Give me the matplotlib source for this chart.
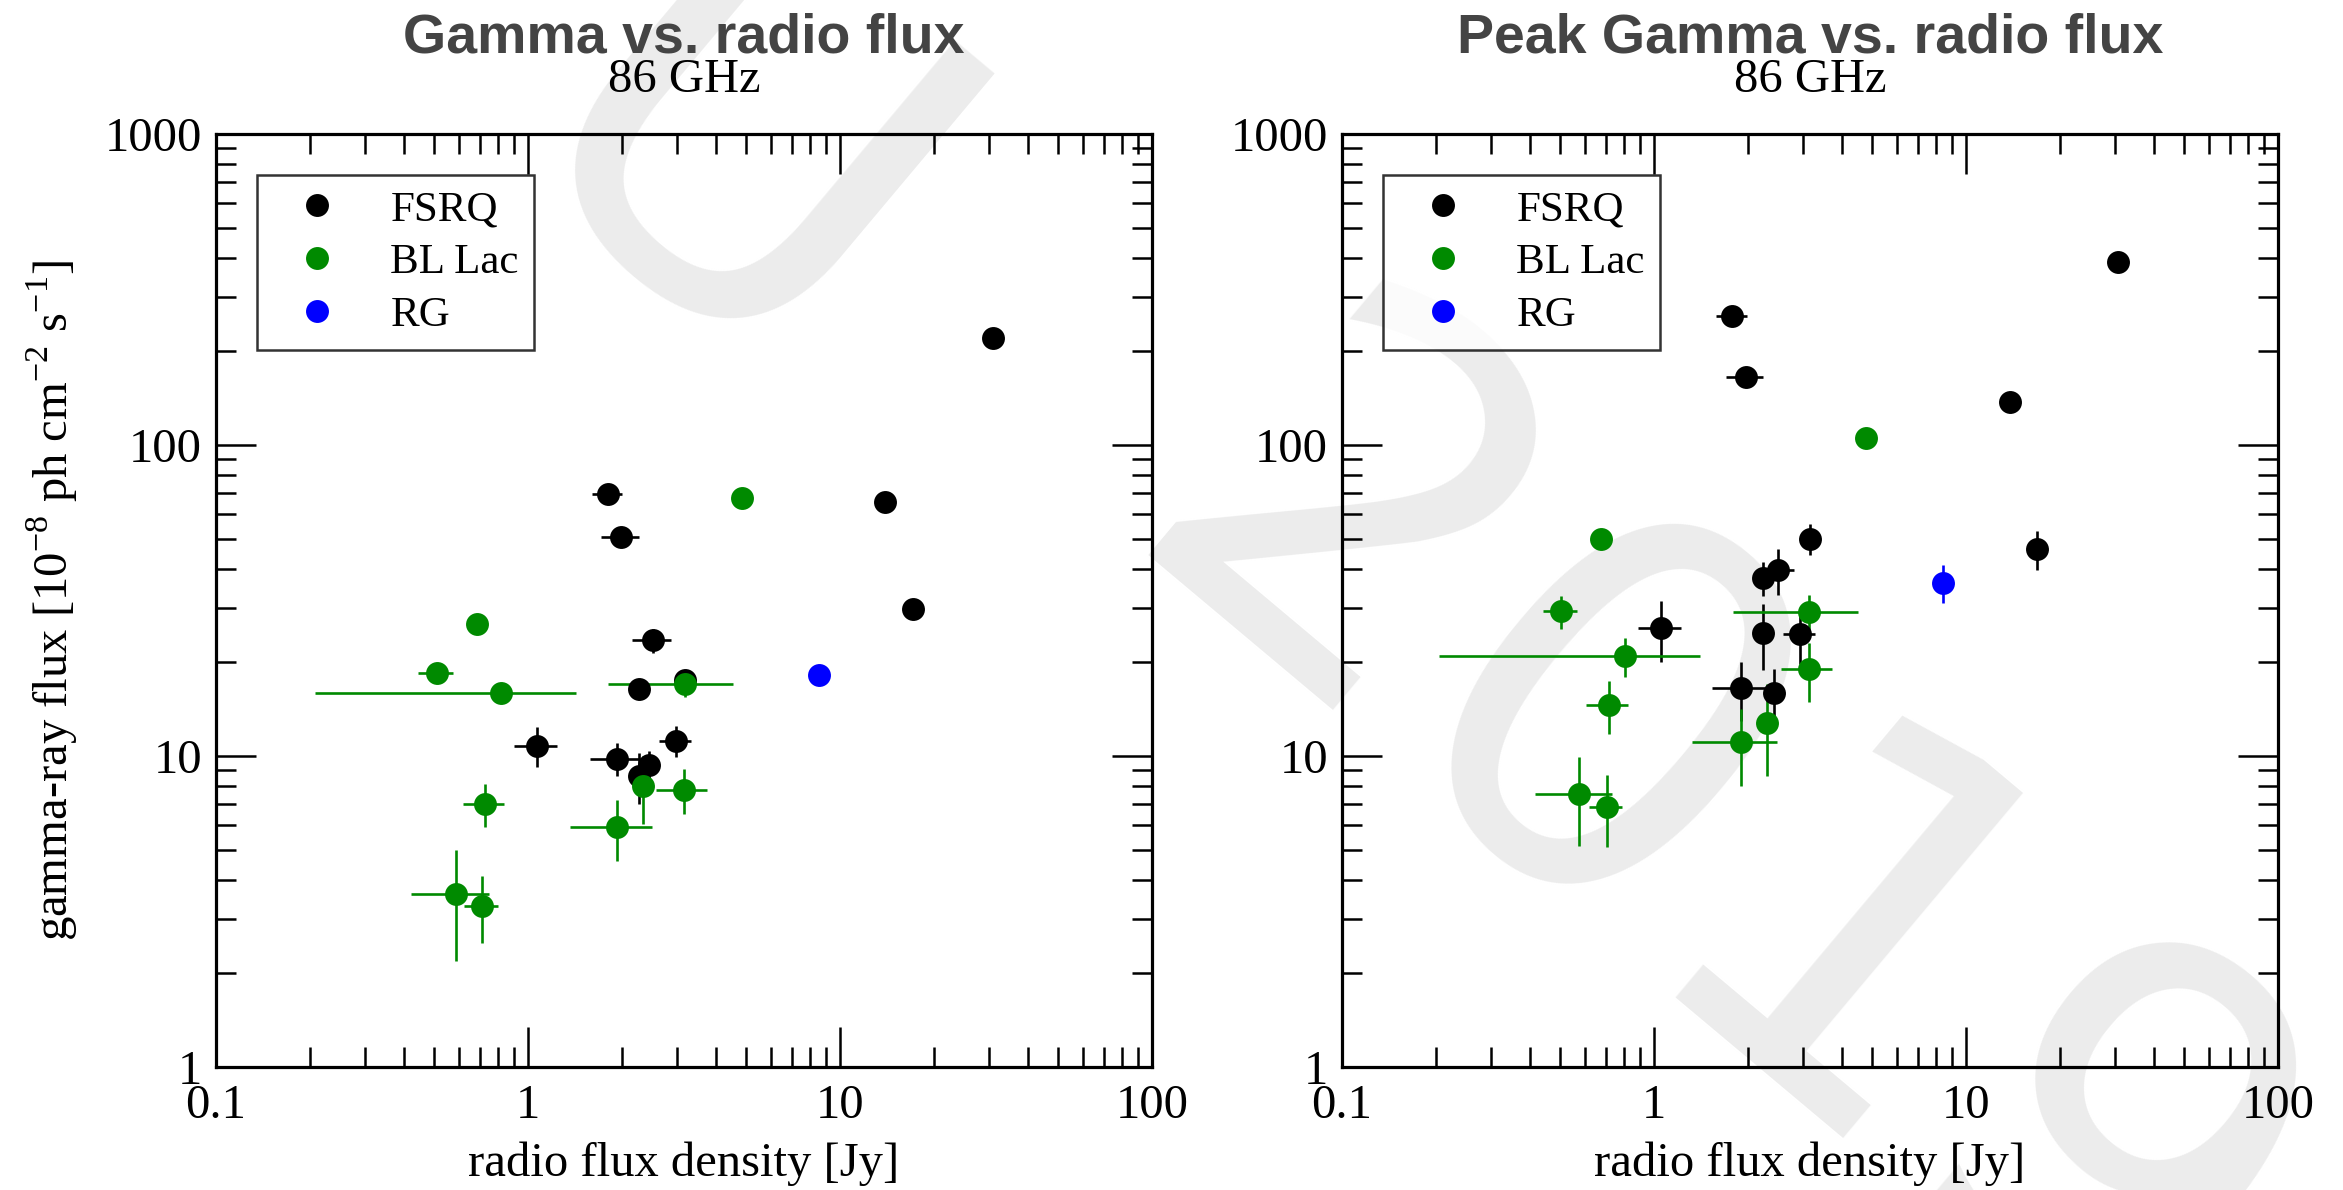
import matplotlib
matplotlib.use('Agg')
import matplotlib.pyplot as plt
from matplotlib.lines import Line2D
from matplotlib.ticker import LogLocator, FixedLocator, FixedFormatter, NullFormatter

plt.rcParams['font.family'] = ['Liberation Serif', 'DejaVu Serif']
plt.rcParams['mathtext.fontset'] = 'custom'
plt.rcParams['mathtext.rm'] = 'Liberation Serif'

DPI = 100
FIG_W, FIG_H = 2343, 1190

CLASS_COLORS = {'FSRQ': '#000000', 'BL Lac': '#008a00', 'RG': '#0000ff'}

# --- mean gamma-ray flux vs 86 GHz flux density ---
meanFsrqRadio = [1.80, 1.99, 13.9, 31.0, 17.1, 2.52, 2.27, 3.19, 1.07, 1.93, 2.45, 2.27, 2.97]
meanFsrqRadioErr = [0.20, 0.28, 0, 0, 0, 0.36, 0, 0, 0.17, 0.35, 0.15, 0, 0.35]
meanFsrqGamma = [69.4, 50.7, 65.4, 221, 29.8, 23.6, 16.4, 17.5, 10.8, 9.81, 9.38, 8.62, 11.2]
meanFsrqGammaErr = [0, 0, 1.5, 3, 0.8, 2.1, 0.5, 0.5, 1.6, 1.2, 1.0, 1.6, 1.3]

meanBllacRadio = [4.85, 0.685, 0.51, 0.818, 3.18, 2.33, 3.17, 0.727, 1.93, 0.587, 0.713]
meanBllacRadioErr = [0.25, 0, 0.065, 0.61, 1.37, 0, 0.59, 0.11, 0.57, 0.165, 0.088]
meanBllacGamma = [67.7, 26.6, 18.5, 15.9, 17.0, 8.03, 7.80, 7.02, 5.91, 3.60, 3.30]
meanBllacGammaErr = [0, 0, 0, 0, 1.5, 2.0, 1.3, 1.1, 1.3, 1.4, 0.8]

meanRgRadio = [8.55]
meanRgRadioErr = [0]
meanRgGamma = [18.2]
meanRgGammaErr = [0]

# --- peak gamma-ray flux vs 86 GHz flux density ---
peakFsrqRadio = [1.78, 1.97, 13.8, 30.7, 16.9, 3.16, 2.49, 2.24, 1.054, 2.24, 2.93, 1.905, 2.43]
peakFsrqRadioErr = [0.20, 0.27, 0, 0, 0, 0, 0.33, 0, 0.167, 0, 0.34, 0.37, 0]
peakFsrqGamma = [260, 166, 137, 387, 46.3, 50.0, 39.6, 37.4, 25.8, 24.8, 24.7, 16.5, 16.0]
peakFsrqGammaErr = [0, 0, 5, 0, 6.7, 5.8, 6.7, 4.6, 5.8, 5.9, 4.9, 3.5, 3.0]

peakBllacRadio = [4.77, 0.676, 0.504, 3.14, 0.805, 3.14, 0.715, 2.30, 1.905, 0.576, 0.705]
peakBllacRadioErr = [0.2, 0, 0.062, 1.35, 0.6, 0.59, 0.11, 0, 0.58, 0.16, 0.087]
peakBllacGamma = [105, 49.7, 29.2, 29.0, 20.9, 19.0, 14.6, 12.8, 11.1, 7.52, 6.88]
peakBllacGammaErr = [0, 0, 3.5, 3.9, 3.0, 4.1, 2.8, 4.2, 3.1, 2.4, 1.8]

peakRgRadio = [8.45]
peakRgRadioErr = [0]
peakRgGamma = [36.1]
peakRgGammaErr = [5.0]

X_TICKS = [0.1, 1, 10, 100]
X_TICK_LABELS = ['0.1', '1', '10', '100']
Y_TICKS = [1, 10, 100, 1000]
Y_TICK_LABELS = ['1', '10', '100', '1000']

PANELS = [
  {
    'title': 'Gamma vs. radio flux',
    'series': {
      'FSRQ': (meanFsrqRadio, meanFsrqRadioErr, meanFsrqGamma, meanFsrqGammaErr),
      'BL Lac': (meanBllacRadio, meanBllacRadioErr, meanBllacGamma, meanBllacGammaErr),
      'RG': (meanRgRadio, meanRgRadioErr, meanRgGamma, meanRgGammaErr),
    },
  },
  {
    'title': 'Peak Gamma vs. radio flux',
    'series': {
      'FSRQ': (peakFsrqRadio, peakFsrqRadioErr, peakFsrqGamma, peakFsrqGammaErr),
      'BL Lac': (peakBllacRadio, peakBllacRadioErr, peakBllacGamma, peakBllacGammaErr),
      'RG': (peakRgRadio, peakRgRadioErr, peakRgGamma, peakRgGammaErr),
    },
  },
]

TEXT_SIZE = 35
LEGEND_SIZE = 31
MARKER_SIZE = 16.5
WATERMARK_GREY = '#ececec'


def styleAxis(axis):
  axis.set_xscale('log')
  axis.set_yscale('log')
  axis.set_xlim(0.1, 100)
  axis.set_ylim(1, 1000)
  axis.set_facecolor('none')

  axis.xaxis.set_major_locator(FixedLocator(X_TICKS))
  axis.xaxis.set_major_formatter(FixedFormatter(X_TICK_LABELS))
  axis.yaxis.set_major_locator(FixedLocator(Y_TICKS))
  axis.yaxis.set_major_formatter(FixedFormatter(Y_TICK_LABELS))
  axis.xaxis.set_minor_locator(LogLocator(base=10, subs=range(2, 10)))
  axis.yaxis.set_minor_locator(LogLocator(base=10, subs=range(2, 10)))
  axis.xaxis.set_minor_formatter(NullFormatter())
  axis.yaxis.set_minor_formatter(NullFormatter())

  axis.tick_params(which='both', direction='in', top=True, right=True,
                   width=1.8, color='black', labelsize=TEXT_SIZE)
  axis.tick_params(which='major', length=29)
  axis.tick_params(which='minor', length=14.5)
  axis.tick_params(axis='x', which='major', pad=12)
  axis.tick_params(axis='y', which='major', pad=10)
  for spine in axis.spines.values():
    spine.set_linewidth(2.3)
    spine.set_zorder(5)


def drawPanel(axis, panel):
  for name, (radio, radioErr, gamma, gammaErr) in panel['series'].items():
    color = CLASS_COLORS[name]
    axis.errorbar(radio, gamma, xerr=radioErr, yerr=gammaErr, fmt='o',
                  color=color, markersize=MARKER_SIZE, markeredgewidth=0,
                  elinewidth=1.9, capsize=0, zorder=3)

  styleAxis(axis)

  axis.set_xlabel('radio flux density [Jy]', fontsize=TEXT_SIZE)
  axis.xaxis.set_label_coords(0.5, -0.080)

  axis.text(0.5, 1.087, panel['title'], transform=axis.transAxes,
            ha='center', va='baseline', fontsize=40, fontweight='bold',
            family=['Liberation Sans', 'DejaVu Sans'], color='#444444')
  axis.text(0.5, 1.045, '86 GHz', transform=axis.transAxes,
            ha='center', va='baseline', fontsize=TEXT_SIZE)

  handles = [Line2D([], [], linestyle='none', marker='o', markersize=MARKER_SIZE,
                    markeredgewidth=0, color=CLASS_COLORS[name])
             for name in panel['series']]
  legend = axis.legend(handles, list(panel['series']), loc='upper left',
                       bbox_to_anchor=(0.0438, 0.956), borderaxespad=0,
                       fontsize=LEGEND_SIZE, frameon=True, fancybox=False,
                       borderpad=0.35, handlelength=2.1, handletextpad=0.65,
                       labelspacing=0.32)
  legend.get_frame().set_edgecolor('black')
  legend.get_frame().set_linewidth(1.8)
  legend.set_zorder(6)


def scatterPlots():
  figure = plt.figure(figsize=(FIG_W / DPI, FIG_H / DPI), dpi=DPI)
  figure.patch.set_facecolor('white')

  # light grey watermark running diagonally behind both panels
  figure.text(720 / FIG_W, 1 - 190 / FIG_H, 'U', rotation=-40, rotation_mode='anchor',
              ha='center', va='center', fontsize=375, color=WATERMARK_GREY,
              family=['DejaVu Sans'], zorder=-1)
  figure.text(1710 / FIG_W, 1 - 870 / FIG_H, '2019', rotation=-40, rotation_mode='anchor',
              ha='center', va='center', fontsize=375, color=WATERMARK_GREY,
              family=['DejaVu Sans'], zorder=-1)

  axLeft = figure.add_axes([216 / FIG_W, 123 / FIG_H, 936 / FIG_W, 933 / FIG_H])
  axRight = figure.add_axes([1342 / FIG_W, 123 / FIG_H, 936 / FIG_W, 933 / FIG_H])

  drawPanel(axLeft, PANELS[0])
  drawPanel(axRight, PANELS[1])

  axLeft.set_ylabel(r'gamma-ray flux [10$^{\mathregular{-8}}$ ph cm$^{\mathregular{-2}}$ s$^{\mathregular{-1}}$]',
                    fontsize=TEXT_SIZE)
  axLeft.yaxis.set_label_coords(-0.145, 0.5)

  figure.savefig('out.png', dpi=DPI, facecolor='white')


if __name__ == "__main__":
  scatterPlots()
